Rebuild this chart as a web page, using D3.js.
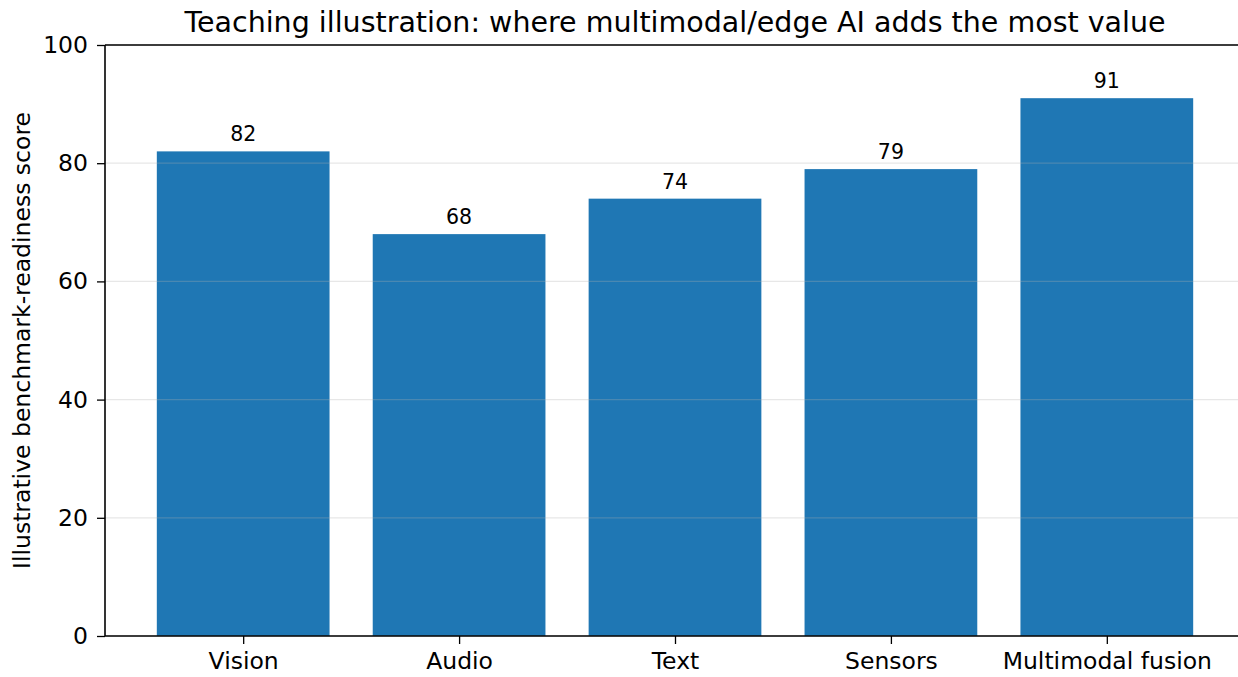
<!DOCTYPE html>
<html>
<head>
<meta charset="utf-8">
<script src="https://cdn.jsdelivr.net/npm/d3@7"></script>
<style>
  body { margin: 0; background: #fff; }
  svg { display: block; font-family: "DejaVu Sans", sans-serif; }
</style>
</head>
<body>
<svg></svg>
<script>
let categories = ['Vision', 'Audio', 'Text', 'Sensors', 'Multimodal fusion'];
let scores = [82, 68, 74, 79, 91];
let yTicks = [0, 20, 40, 60, 80, 100];

let width = 1238;
let height = 677;
let padLeft = 105, padRight = 1245, padTop = 45, padBottom = 636;

let svg = d3.select('svg').attr('width', width).attr('height', height);

// linear scale mimics matplotlib bar placement: step = 1 unit, bar width 0.8, margins 0.05
let xIndex = d3.scaleLinear()
    .domain([-0.64, categories.length - 1 + 0.64])
    .range([padLeft, padRight]);
let barW = xIndex(0.8) - xIndex(0);

let yScale = d3.scaleLinear().domain([0, 100]).range([padBottom, padTop]);

// bars
svg.selectAll('rect.bar')
    .data(scores)
    .enter()
    .append('rect')
    .attr('class', 'bar')
    .attr('x', (d, i) => xIndex(i - 0.4))
    .attr('width', barW)
    .attr('y', d => yScale(d))
    .attr('height', d => padBottom - yScale(d))
    .attr('fill', '#1f77b4');

// grid over bars
svg.append('g')
    .selectAll('line')
    .data(yTicks)
    .enter()
    .append('line')
    .attr('x1', padLeft).attr('x2', padRight)
    .attr('y1', d => yScale(d)).attr('y2', d => yScale(d))
    .attr('stroke', '#b0b0b0')
    .attr('stroke-opacity', 0.3)
    .attr('stroke-width', 1.3);

// value labels
svg.selectAll('text.val')
    .data(scores)
    .enter()
    .append('text')
    .attr('class', 'val')
    .attr('x', (d, i) => xIndex(i))
    .attr('y', d => yScale(d) - 10)
    .attr('text-anchor', 'middle')
    .attr('font-size', 20.5)
    .attr('fill', '#000')
    .text(d => d);

// axes
let yAxis = d3.axisLeft(yScale).tickValues(yTicks).tickSize(8).tickPadding(9);
let gy = svg.append('g')
    .attr('transform', 'translate(' + padLeft + ',0)')
    .call(yAxis);
gy.select('.domain').remove();
gy.selectAll('line').attr('stroke', '#000').attr('stroke-width', 1.3);
gy.selectAll('text').attr('font-size', 23.5).attr('fill', '#000').attr('font-family', 'DejaVu Sans');

let xAxis = d3.axisBottom(xIndex).tickValues(d3.range(categories.length))
    .tickFormat(i => categories[i]).tickSize(8).tickPadding(8);
let gx = svg.append('g')
    .attr('transform', 'translate(0,' + padBottom + ')')
    .call(xAxis);
gx.select('.domain').remove();
gx.selectAll('line').attr('stroke', '#000').attr('stroke-width', 1.3);
gx.selectAll('text').attr('font-size', 23.5).attr('fill', '#000').attr('font-family', 'DejaVu Sans')
    .attr('dy', null).attr('y', 33);

// spines
let spine = (x1, y1, x2, y2) => svg.append('line')
    .attr('x1', x1).attr('y1', y1).attr('x2', x2).attr('y2', y2)
    .attr('stroke', '#000').attr('stroke-width', 1.6);
spine(padLeft, padTop, padLeft, padBottom);
spine(padLeft, padBottom, padRight, padBottom);
spine(padLeft, padTop, padRight, padTop);

// title
svg.append('text')
    .attr('x', (padLeft + padRight) / 2)
    .attr('y', 32)
    .attr('text-anchor', 'middle')
    .attr('font-size', 28.5)
    .text('Teaching illustration: where multimodal/edge AI adds the most value');

// y label
svg.append('text')
    .attr('transform', 'translate(30,' + (padTop + padBottom) / 2 + ') rotate(-90)')
    .attr('text-anchor', 'middle')
    .attr('font-size', 23.5)
    .text('Illustrative benchmark-readiness score');
</script>
</body>
</html>
